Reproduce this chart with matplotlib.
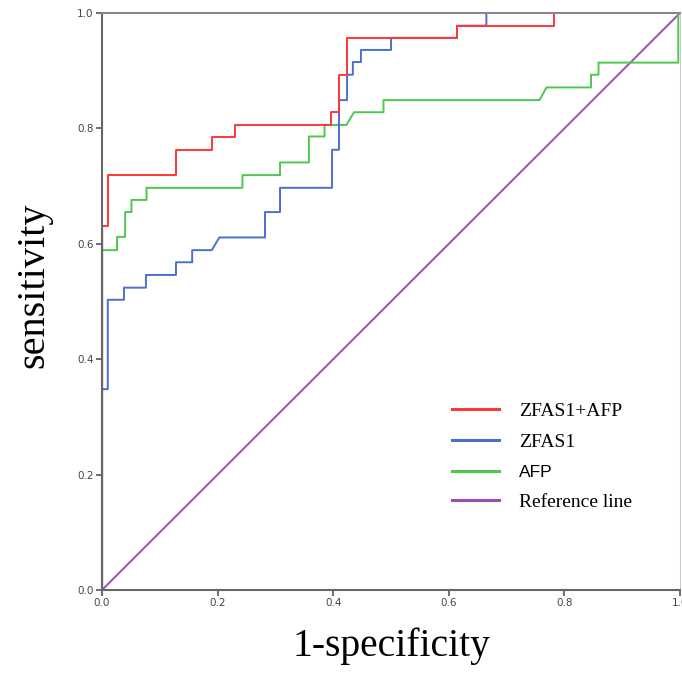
import numpy as np
import matplotlib
matplotlib.use("Agg")
import matplotlib.pyplot as plt

# ROC step points (1-specificity, sensitivity)
combo_x = [0.0, 0.0, 0.010, 0.010, 0.128, 0.128, 0.190, 0.190, 0.230, 0.230,
           0.396, 0.396, 0.410, 0.410, 0.424, 0.424, 0.614, 0.614, 0.782, 0.782, 1.0]
combo_y = [0.0, 0.630, 0.630, 0.719, 0.719, 0.763, 0.763, 0.785, 0.785, 0.806,
           0.806, 0.828, 0.828, 0.893, 0.893, 0.957, 0.957, 0.978, 0.978, 1.0, 1.0]

zfas1_x = [0.0, 0.0, 0.010, 0.010, 0.038, 0.038, 0.076, 0.076, 0.128, 0.128,
           0.156, 0.156, 0.190, 0.203, 0.282, 0.282, 0.308, 0.308, 0.398, 0.398,
           0.410, 0.410, 0.424, 0.424, 0.434, 0.434, 0.448, 0.448, 0.500, 0.500,
           0.614, 0.614, 0.665, 0.665, 1.0]
zfas1_y = [0.0, 0.348, 0.348, 0.503, 0.503, 0.524, 0.524, 0.546, 0.546, 0.568,
           0.568, 0.589, 0.589, 0.611, 0.611, 0.655, 0.655, 0.697, 0.697, 0.763,
           0.763, 0.849, 0.849, 0.893, 0.893, 0.915, 0.915, 0.936, 0.936, 0.957,
           0.957, 0.978, 0.978, 1.0, 1.0]

afp_x = [0.0, 0.0, 0.026, 0.026, 0.040, 0.040, 0.051, 0.051, 0.077, 0.077,
         0.243, 0.243, 0.308, 0.308, 0.358, 0.358, 0.385, 0.385, 0.423, 0.436,
         0.487, 0.487, 0.757, 0.769, 0.846, 0.846, 0.859, 0.859, 0.997, 0.997]
afp_y = [0.0, 0.589, 0.589, 0.612, 0.612, 0.655, 0.655, 0.676, 0.676, 0.697,
         0.697, 0.719, 0.719, 0.741, 0.741, 0.786, 0.786, 0.806, 0.806, 0.828,
         0.828, 0.849, 0.849, 0.871, 0.871, 0.893, 0.893, 0.914, 0.914, 1.0]

ref_x = [0.0, 1.0]
ref_y = [0.0, 1.0]

labels = ["ZFAS1+AFP", "ZFAS1", "AFP", "Reference line"]
colors = ["#ff3636", "#4a6fd0", "#4cc84c", "#9a4fb4"]

fig = plt.figure(figsize=(6.82, 6.73), dpi=100)
ax = fig.add_axes([102 / 682, 1 - 590 / 673, 578 / 682, 577 / 673])

ax.plot(ref_x, ref_y, color=colors[3], lw=1.4, label=labels[3])
ax.plot(afp_x, afp_y, color=colors[2], lw=1.4, label=labels[2])
ax.plot(zfas1_x, zfas1_y, color=colors[1], lw=1.4, label=labels[1])
ax.plot(combo_x, combo_y, color=colors[0], lw=1.4, label=labels[0])
# overlapping segments on the left edge look brown in the original
ax.plot([0, 0], [0, 0.63], color="#7a3a30", lw=1.6)

ax.set_xlim(0, 1)
ax.set_ylim(0, 1)
ticks = np.arange(0, 1.01, 0.2)
ax.set_xticks(ticks)
ax.set_yticks(ticks)
ax.set_xticklabels([f"{t:.1f}" for t in ticks])
ax.set_yticklabels([f"{t:.1f}" for t in ticks])
ax.tick_params(labelsize=7.5, labelcolor="#444444", color="#555555",
               length=4, width=1.2, pad=2)

for side in ["left", "bottom"]:
    ax.spines[side].set_color("#666666")
    ax.spines[side].set_linewidth(1.5)
ax.spines["top"].set_color("#888888")
ax.spines["top"].set_linewidth(1.5)
ax.spines["right"].set_color("#cccccc")
ax.spines["right"].set_linewidth(0.8)

ax.set_xlabel("1-specificity", family="Liberation Serif", fontsize=28.5, labelpad=14)
ax.set_ylabel("sensitivity", family="Liberation Serif", fontsize=29)
ax.yaxis.set_label_coords(-0.086, 0.529)

h, l = ax.get_legend_handles_labels()
order = [3, 2, 1, 0]
leg = ax.legend([h[i] for i in order], [l[i] for i in order],
                loc="center left", bbox_to_anchor=(0.575, 0.231), frameon=False,
                prop={"family": "Liberation Serif", "size": 14},
                handlelength=2.42, handletextpad=1.03, labelspacing=0.68)
for line in leg.get_lines():
    line.set_linewidth(2.2)
leg.get_texts()[2].set_fontfamily("Liberation Sans")
leg.get_texts()[2].set_fontsize(12.5)

fig.savefig("out.png", dpi=100)
